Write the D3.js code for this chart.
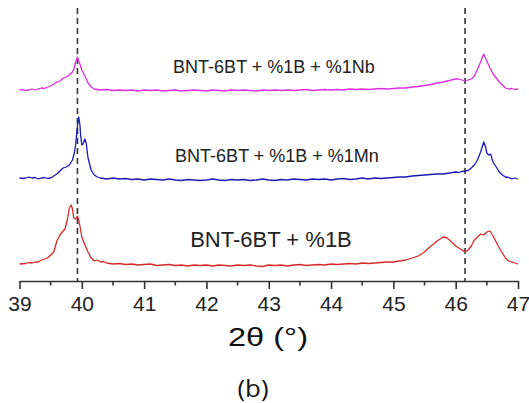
<!DOCTYPE html>
<html>
<head>
<meta charset="utf-8">
<script src="https://cdn.jsdelivr.net/npm/d3@7"></script>
<style>
  html, body { margin: 0; padding: 0; background: #fff; }
  svg { display: block; }
</style>
</head>
<body>
<svg id="chart" width="529" height="403"></svg>
<script>
// ---- data (2θ in degrees, intensity in arbitrary units incl. vertical offset) ----
const seriesNames = ["BNT-6BT + %1B", "BNT-6BT + %1B + %1Mn", "BNT-6BT + %1B + %1Nb"];
const xTicks = [39, 40, 41, 42, 43, 44, 45, 46, 47];
const refLines = [39.93, 46.15];

const redData = [
  [39.0,17],[39.1,17.5],[39.15,18.5],[39.2,18],[39.25,19],[39.3,19],[39.35,21],[39.4,22],[39.45,23],[39.5,26],
  [39.55,29],[39.6,40],[39.65,46],[39.7,50],[39.73,52],[39.77,62],[39.8,73],[39.83,76],[39.85,72],
  [39.87,63],[39.9,62],[39.93,65],[39.95,61],[39.97,55],[40.0,44],[40.05,36],[40.1,29],[40.15,23],
  [40.2,20],[40.25,21],[40.3,19],[40.35,19.5],[40.4,18],[40.5,17],[40.6,17.5],[40.7,16.5],[40.8,17],
  [40.9,16],[41.0,16.5],[41.1,17],[41.2,15.5],[41.3,16],[41.4,16.5],[41.5,15.5],[41.6,16],[41.7,15],
  [41.8,16],[41.9,15.5],[42.0,16],[42.1,15],[42.2,16],[42.3,15.5],[42.4,15],[42.5,16],[42.6,15.5],
  [42.7,16],[42.8,15],[42.9,14.5],[43.0,16],[43.1,15.5],[43.2,16],[43.3,15],[43.4,16],[43.5,16.5],
  [43.6,15.5],[43.7,16],[43.8,16.5],[43.9,16],[44.0,17],[44.1,16.5],[44.2,17],[44.3,17.5],[44.4,17],
  [44.5,18],[44.6,17.5],[44.7,18],[44.8,18.5],[44.9,19],[45.0,19],[45.1,20],[45.2,21],[45.3,23],
  [45.4,25],[45.5,29],[45.6,35],[45.65,37],[45.7,40],[45.75,42],[45.8,44],[45.85,43.5],[45.9,41],
  [45.95,38],[46.0,35],[46.05,33],[46.1,31],[46.15,29],[46.2,31],[46.25,35],[46.3,41],[46.35,44],
  [46.4,47],[46.45,46],[46.5,49],[46.55,50],[46.6,45],[46.65,39],[46.7,33],[46.75,28],[46.8,23],
  [46.85,20],[46.9,19],[46.95,18],[47.0,17]
];

const blueData = [
  [39.0,103],[39.05,102.5],[39.1,103],[39.15,104],[39.2,103],[39.25,103.5],[39.3,102],[39.35,103],
  [39.4,103.5],[39.45,102.5],[39.5,103],[39.55,105],[39.6,107],[39.65,110],[39.7,113],[39.75,114],
  [39.8,116],[39.85,121],[39.88,128],[39.9,136],[39.93,155],[39.95,164],[39.97,156],[39.98,146],
  [40.0,136],[40.02,137],[40.05,142],[40.07,138],[40.1,123],[40.15,111],[40.2,106],[40.25,104],
  [40.3,103],[40.4,102],[40.5,103],[40.6,102],[40.7,102.5],[40.8,101.5],[40.9,102],[41.0,101],
  [41.1,102],[41.2,101.5],[41.3,101],[41.4,102],[41.5,101],[41.6,100.5],[41.7,101.5],[41.8,101],
  [41.9,100.5],[42.0,101],[42.1,102],[42.2,101],[42.3,100.5],[42.4,101.5],[42.5,101],[42.6,101.5],
  [42.7,100.5],[42.8,101],[42.9,102],[43.0,101],[43.1,100.5],[43.2,101.5],[43.3,101],[43.4,102],
  [43.5,101.5],[43.6,101],[43.7,102],[43.8,101.5],[43.9,102],[44.0,101],[44.1,102],[44.2,102.5],
  [44.3,101.5],[44.4,102],[44.5,103],[44.6,102],[44.7,103],[44.8,102.5],[44.9,103],[45.0,103.5],
  [45.1,104],[45.2,104],[45.3,105],[45.4,105.5],[45.5,106],[45.6,106.5],[45.7,107],[45.8,107],
  [45.9,108],[46.0,109],[46.05,108.5],[46.1,109.5],[46.15,110],[46.2,110.5],[46.25,113],[46.3,116],
  [46.35,121],[46.4,129],[46.45,139],[46.48,134],[46.5,128],[46.53,126],[46.56,127],[46.6,119],
  [46.65,114],[46.7,109],[46.75,106],[46.8,104],[46.85,103.5],[46.9,102],[46.95,103],[47.0,102]
];

const magentaData = [
  [39.0,191],[39.05,191.5],[39.1,190.5],[39.15,191],[39.2,192],[39.25,191],[39.3,192],[39.35,193],
  [39.4,192.5],[39.45,194],[39.5,195],[39.55,197],[39.6,199],[39.65,200],[39.7,203],[39.75,204],
  [39.8,206],[39.85,209],[39.88,213],[39.9,219],[39.93,224],[39.95,220],[39.97,217],[40.0,211],
  [40.05,205],[40.1,198],[40.15,194],[40.2,192],[40.25,191.5],[40.3,191],[40.4,191.5],[40.5,190.5],
  [40.6,191],[40.7,190.5],[40.8,191],[40.9,190],[41.0,191],[41.1,190.5],[41.2,191],[41.3,190],
  [41.4,190.5],[41.5,191],[41.6,190],[41.7,190.5],[41.8,191],[41.9,190.5],[42.0,190],[42.1,191],
  [42.2,190.5],[42.3,190],[42.4,191],[42.5,190.5],[42.6,191],[42.7,190.5],[42.8,190],[42.9,191],
  [43.0,190.5],[43.1,191],[43.2,190.5],[43.3,191],[43.4,190.5],[43.5,191],[43.6,191.5],[43.7,190.5],
  [43.8,191],[43.9,191.5],[44.0,191],[44.1,191.5],[44.2,191],[44.3,192],[44.4,191.5],[44.5,192],
  [44.6,191.5],[44.7,192],[44.8,192.5],[44.9,192],[45.0,192.5],[45.1,193],[45.2,193],[45.3,194],
  [45.4,194.5],[45.5,195.5],[45.6,196.5],[45.7,198],[45.8,199],[45.9,200.5],[46.0,202],[46.05,202],
  [46.1,201],[46.15,200],[46.2,201],[46.25,202],[46.3,205],[46.35,212],[46.4,219],[46.45,227],
  [46.5,220],[46.55,213],[46.6,207],[46.65,203],[46.7,199],[46.75,196],[46.8,193],[46.85,192],
  [46.9,192.5],[46.95,191.5],[47.0,192]
];

const seriesData = [redData, blueData, magentaData];
const seriesColors = ["#d42a2a", "#1a1ab4", "#dc2edc"];

// ---- drawing ----
const svg = d3.select("#chart");
const W = 529, H = 403;
svg.append("rect").attr("width", W).attr("height", H).attr("fill", "#fff");

const x = d3.scaleLinear().domain([39, 47]).range([19.5, 518]);
const y = d3.scaleLinear().domain([0, 280]).range([281, 1]);

// reference dashed lines
svg.selectAll("line.ref").data(refLines).enter().append("line")
  .attr("class", "ref")
  .attr("x1", d => x(d)).attr("x2", d => x(d))
  .attr("y1", 8).attr("y2", 281)
  .attr("stroke", "#333").attr("stroke-width", 1.6)
  .attr("stroke-dasharray", "6,4");

// traces
const line = d3.line().x(d => x(d[0])).y(d => y(d[1])).curve(d3.curveLinear);
svg.selectAll("path.trace").data(seriesData).enter().append("path")
  .attr("class", "trace")
  .attr("d", d => line(d))
  .attr("fill", "none")
  .attr("stroke", (d, i) => seriesColors[i])
  .attr("stroke-width", 1.3)
  .attr("stroke-linejoin", "round");

// x axis
const axisG = svg.append("g").attr("transform", "translate(0,281)");
const axis = d3.axisBottom(x).tickValues(xTicks).tickSize(8).tickSizeOuter(0).tickFormat(d3.format("d"));
axisG.call(axis);
axisG.select(".domain").attr("stroke", "#333").attr("stroke-width", 1.6);
axisG.selectAll(".tick line").attr("stroke", "#333").attr("stroke-width", 1.6);
axisG.selectAll(".tick text")
  .attr("fill", "#222")
  .attr("font-family", "'Liberation Sans', Arial, sans-serif")
  .attr("font-size", 21)
  .attr("dy", null)
  .attr("y", 30);
const minorTicks = d3.range(39.5, 47, 1);
axisG.selectAll("line.minor").data(minorTicks).enter().append("line")
  .attr("class", "minor")
  .attr("x1", d => x(d)).attr("x2", d => x(d))
  .attr("y1", 0).attr("y2", 4.5)
  .attr("stroke", "#333").attr("stroke-width", 1.6);

// series labels
const labelPos = [
  {x: 271, y: 247, size: 22},
  {x: 277, y: 162, size: 18},
  {x: 274, y: 73, size: 18}
];
svg.selectAll("text.lbl").data(seriesNames).enter().append("text")
  .attr("class", "lbl")
  .attr("x", (d, i) => labelPos[i].x)
  .attr("y", (d, i) => labelPos[i].y)
  .attr("text-anchor", "middle")
  .attr("font-family", "'Liberation Sans', Arial, sans-serif")
  .attr("font-size", (d, i) => labelPos[i].size)
  .attr("fill", "#222")
  .text(d => d);

// axis title
svg.append("text")
  .attr("x", 268).attr("y", 346)
  .attr("text-anchor", "middle")
  .attr("font-family", "'Liberation Sans', Arial, sans-serif")
  .attr("font-size", 25)
  .attr("textLength", 80)
  .attr("lengthAdjust", "spacingAndGlyphs")
  .attr("fill", "#111")
  .text("2θ (°)");

// panel label
svg.append("text")
  .attr("x", 253).attr("y", 397)
  .attr("text-anchor", "middle")
  .attr("font-family", "'Open Sans', sans-serif")
  .attr("font-size", 23)
  .attr("textLength", 31)
  .attr("lengthAdjust", "spacingAndGlyphs")
  .attr("fill", "#111")
  .text("(b)");
</script>
</body>
</html>
